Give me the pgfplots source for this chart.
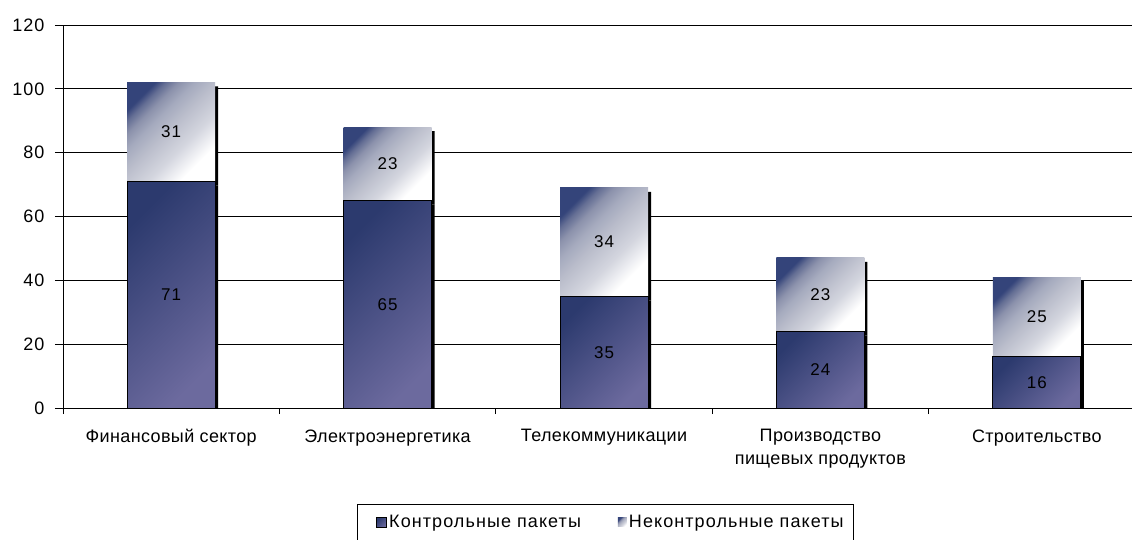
\documentclass[border=0pt]{standalone}
\usepackage{pgfplots}
\pgfplotsset{compat=1.18}
\usepackage{pgfplotstable}
\usepackage{fontspec}
\setmainfont{Liberation Sans}
\newfontfamily\chartfont[LetterSpace=2]{Liberation Sans}
\newfontfamily\numfont[LetterSpace=6]{Liberation Sans}

% sector, controlling stakes, non-controlling stakes
\pgfplotstableread{
x ctrl nonctrl
0 71 31
1 65 23
2 35 34
3 24 23
4 16 25
}\packets

% diagonal gradients of the two bar segments (rotated by 45 degrees)
\pgfdeclareverticalshading{ctrlshade}{100bp}{
  color(0bp)=(rgb,255:red,108;green,106;blue,158);
  color(25bp)=(rgb,255:red,108;green,106;blue,158);
  color(75bp)=(rgb,255:red,44;green,58;blue,110);
  color(100bp)=(rgb,255:red,44;green,58;blue,110)}
\pgfdeclareverticalshading{nonctrlshade}{100bp}{
  color(0bp)=(white);
  color(28bp)=(white);
  color(40bp)=(rgb,255:red,212;green,214;blue,223);
  color(52bp)=(rgb,255:red,186;green,189;blue,203);
  color(60bp)=(rgb,255:red,165;green,170;blue,190);
  color(66bp)=(rgb,255:red,140;green,146;blue,172);
  color(71bp)=(rgb,255:red,100;green,110;blue,148);
  color(75bp)=(rgb,255:red,52;green,68;blue,122);
  color(100bp)=(rgb,255:red,52;green,68;blue,122)}

\tikzset{
  ctrl bar/.style={draw=black, line width=1pt, shading=ctrlshade, shading angle=45},
  nonctrl bar/.style={draw=none, shading=nonctrlshade, shading angle=45},
}

\pgfplotsset{
  packetaxis/.style={
    scale only axis, width=1082pt, height=383pt,
    xmin=-0.5, xmax=4.5, ymin=0, ymax=120,
    ybar stacked, bar width=88pt,
  },
  segment label/.style={
    nodes near coords={\pgfmathprintnumber[assume math mode=true]{\pgfplotspointmeta}},
    point meta=explicit,
    every node near coord/.append style={
      font=\numfont\fontsize{17}{19}\selectfont, text=black, anchor=center},
  },
}

\begin{document}
\begin{tikzpicture}
\useasboundingbox (-63pt,-131pt) rectangle (1069pt,408pt);
% drop shadows behind the bars
\begin{axis}[packetaxis, hide axis, bar shift=3pt]
  \addplot[fill=black, draw=none, yshift=-4pt] table[x=x,y=ctrl]{\packets};
  \addplot[fill=black, draw=none, yshift=-4pt] table[x=x,y=nonctrl]{\packets};
\end{axis}
% frame: grid, axes, ticks and legend
\begin{axis}[packetaxis,
  /pgf/number format/assume math mode=true,
  axis x line*=bottom, axis y line*=left,
  axis line style={-, black, line width=0.8pt},
  ymajorgrids, grid style={black, line width=0.8pt},
  tick style={black, line width=0.8pt},
  tick align=outside, major tick length=8pt,
  ytick={0,20,...,120},
  yticklabel style={font=\numfont\fontsize{18}{20}\selectfont, xshift=-7pt},
  xtick={0,...,4},
  xticklabels={Финансовый сектор, Электроэнергетика, Телекоммуникации,
    {Производство\\пищевых продуктов}, Строительство},
  xticklabel style={font=\chartfont\fontsize{18}{23}\selectfont, align=center, yshift=-10pt},
  major x tick style={draw=none},
  minor xtick={-0.5,0.5,...,4.5}, minor tick length=6pt,
  legend columns=2,
  legend style={at={(axis description cs:0,0)}, anchor=north west,
    xshift=294pt, yshift=-96pt, draw=black, line width=0.8pt,
    font=\numfont\fontsize{18}{20}\selectfont,
    inner xsep=8pt, inner ysep=9pt,
    /tikz/every even column/.append style={column sep=35pt}},
]
  \addlegendimage{legend image code/.code={
    \path (-11pt,0pt) (10pt,0pt);
    \draw[ctrl bar, line width=0.7pt] (0pt,-5pt) rectangle (10pt,5pt);}}
  \addlegendentry{Контрольные пакеты}
  \addlegendimage{legend image code/.code={
    \fill[nonctrl bar] (0pt,-4.5pt) rectangle (9pt,4.5pt);}}
  \addlegendentry{Неконтрольные пакеты}
\end{axis}
% one stacked bar per sector, each shaded on its own
\foreach \i in {0,...,4} {
  \begin{axis}[packetaxis, hide axis]
    \addplot[ctrl bar, segment label,
      restrict expr to domain={\coordindex}{\i:\i}]
      table[x=x, y=ctrl, meta=ctrl]{\packets};
    \addplot[nonctrl bar, segment label,
      restrict expr to domain={\coordindex}{\i:\i}]
      table[x=x, y=nonctrl, meta=nonctrl]{\packets};
  \end{axis}
}
\end{tikzpicture}
\end{document}
